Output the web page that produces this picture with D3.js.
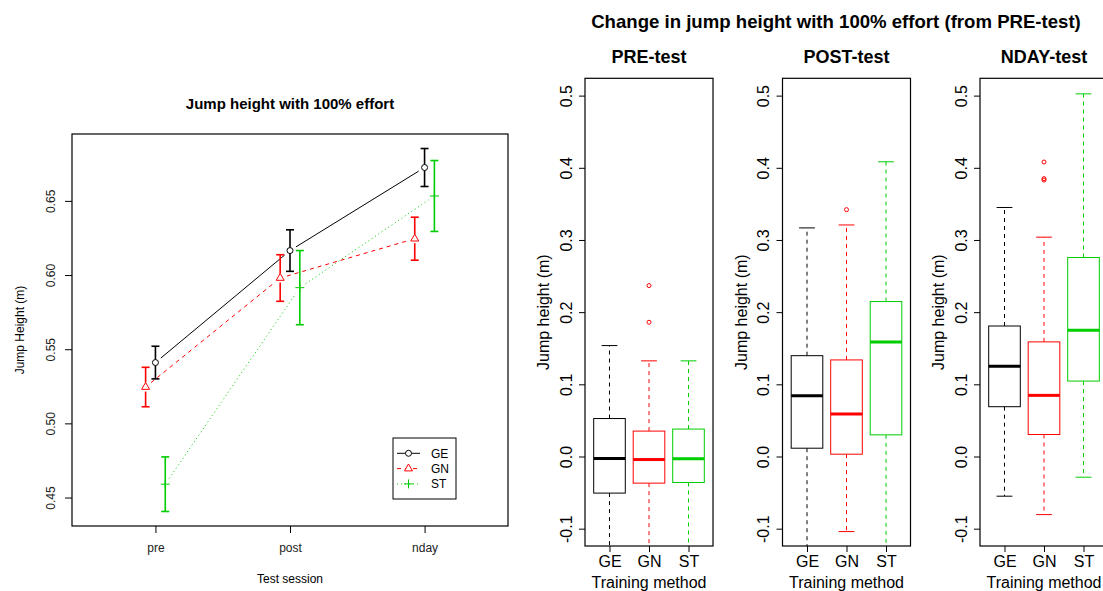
<!DOCTYPE html>
<html>
<head>
<meta charset="utf-8">
<script src="https://cdn.jsdelivr.net/npm/d3@7/dist/d3.min.js"></script>
<style>
body { margin: 0; background: #fff; }
svg { display: block; font-family: "Liberation Sans", Arial, sans-serif; }
</style>
</head>
<body>
<script>
/*global d3*/

// ---------------------------------------------------------------------------
// Data
// ---------------------------------------------------------------------------

// Test sessions (x axis of left chart) and training groups
var sessions = ["pre", "post", "nday"];
var groups = ["GE", "GN", "ST"];

// Mean jump height (m) and error bar half-width, one value per session
var meanGE = [0.541, 0.6165, 0.6725];
var errGE = [0.011, 0.014, 0.0128];
var meanGN = [0.5245, 0.598, 0.6245];
var errGN = [0.0133, 0.0157, 0.0145];
var meanST = [0.459, 0.5915, 0.6533];
var errST = [0.0184, 0.025, 0.0239];

var leftTicks = [0.45, 0.50, 0.55, 0.60, 0.65];

// Box plot panels: [lower whisker, Q1, median, Q3, upper whisker] per group
// (lower whiskers that run out of the panel are estimated below -0.124)
var panels = ["PRE-test", "POST-test", "NDAY-test"];
var preStats = [
    [-0.16, -0.0507, -0.0028, 0.0526, 0.1537],
    [-0.16, -0.0369, -0.0042, 0.0352, 0.1325],
    [-0.16, -0.036, -0.0032, 0.038, 0.1325]
];
var preOut = [[], [0.186, 0.2368], []];
var postStats = [
    [-0.16, 0.0115, 0.0842, 0.1397, 0.3167],
    [-0.104, 0.0032, 0.0588, 0.1338, 0.3208],
    [-0.16, 0.030, 0.1588, 0.2147, 0.4083]
];
var postOut = [[], [0.342], []];
var ndayStats = [
    [-0.055, 0.069, 0.1249, 0.1808, 0.345],
    [-0.0805, 0.0305, 0.0847, 0.1588, 0.3039],
    [-0.0287, 0.1045, 0.1748, 0.2757, 0.5024]
];
var ndayOut = [[], [0.408, 0.385, 0.383], []];

var boxTicks = [-0.1, 0.0, 0.1, 0.2, 0.3, 0.4, 0.5];
var boxLimits = [-0.1, 0.5];

// ---------------------------------------------------------------------------
// Shared setup
// ---------------------------------------------------------------------------
var colors = ["#000000", "#ff0000", "#00cd00"];

var svg = d3.select("body").append("svg")
    .attr("width", 1103)
    .attr("height", 591);

// R style axis range: data range stretched by 4% on both sides
function padRange(lo, hi) {
    var e = (hi - lo) * 0.04;
    return [lo - e, hi + e];
}

// ---------------------------------------------------------------------------
// Left chart: means with error bars
// ---------------------------------------------------------------------------
var plot = {left: 72, right: 508, top: 134, bottom: 526};

var series = [
    {name: "GE", mean: meanGE, err: errGE, dx: 0, dash: null, shape: "circle"},
    {name: "GN", mean: meanGN, err: errGN, dx: -0.073, dash: "4,4",
        shape: "triangle"},
    {name: "ST", mean: meanST, err: errST, dx: 0.073, dash: "1,3",
        shape: "plus"}
];
series.forEach(function (s, i) { s.color = colors[i]; });

var allLo = [], allHi = [];
series.forEach(function (s) {
    s.mean.forEach(function (m, j) {
        allLo.push(m - s.err[j]);
        allHi.push(m + s.err[j]);
    });
});

var xLeft = d3.scaleLinear()
    .domain(padRange(0.5, 3.5))
    .range([plot.left, plot.right]);
var yLeft = d3.scaleLinear()
    .domain(padRange(d3.min(allLo), d3.max(allHi)))
    .range([plot.bottom, plot.top]);

// marker shapes, drawn as paths around (0,0)
function markerPath(shape) {
    if (shape === "circle") {
        return "M3,0A3,3 0 1,1 -3,0A3,3 0 1,1 3,0Z";
    }
    if (shape === "triangle") {
        return "M0,-4.6L4,2.3L-4,2.3Z";
    }
    return "M-4.5,0H4.5M0,-4.5V4.5";
}
var markerGap = {circle: 3, triangle: 4.5, plus: 0};

var gLeft = svg.append("g");

series.forEach(function (s) {
    var pts = s.mean.map(function (m, j) {
        return [xLeft(j + 1 + s.dx), yLeft(m)];
    });

    // connecting lines, broken around the points (type = "b")
    for (var j = 0; j < pts.length - 1; j++) {
        var a = pts[j], b = pts[j + 1];
        var dx = b[0] - a[0], dy = b[1] - a[1];
        var len = Math.sqrt(dx * dx + dy * dy), gap = 7;
        gLeft.append("line")
            .attr("x1", a[0] + dx / len * gap)
            .attr("y1", a[1] + dy / len * gap)
            .attr("x2", b[0] - dx / len * gap)
            .attr("y2", b[1] - dy / len * gap)
            .attr("stroke", s.color)
            .attr("stroke-width", 1)
            .attr("stroke-dasharray", s.dash);
    }

    // error bars with caps
    s.mean.forEach(function (m, j) {
        var x = xLeft(j + 1 + s.dx), g = markerGap[s.shape];
        var yTop = yLeft(m + s.err[j]), yBot = yLeft(m - s.err[j]);
        var yMid = yLeft(m);
        var bar = gLeft.append("g")
            .attr("stroke", s.color)
            .attr("stroke-width", 1.6);
        bar.append("line").attr("x1", x).attr("x2", x)
            .attr("y1", yTop).attr("y2", yMid - g);
        bar.append("line").attr("x1", x).attr("x2", x)
            .attr("y1", yMid + g).attr("y2", yBot);
        bar.append("line").attr("x1", x - 4).attr("x2", x + 4)
            .attr("y1", yTop).attr("y2", yTop);
        bar.append("line").attr("x1", x - 4).attr("x2", x + 4)
            .attr("y1", yBot).attr("y2", yBot);
    });

    // markers
    gLeft.selectAll(null)
        .data(pts)
        .enter()
        .append("path")
        .attr("transform", function (d) {
            return "translate(" + d[0] + "," + d[1] + ")";
        })
        .attr("d", markerPath(s.shape))
        .attr("fill", "none")
        .attr("stroke", s.color)
        .attr("stroke-width", 1);
});

// box around plot region
svg.append("rect")
    .attr("x", plot.left)
    .attr("y", plot.top)
    .attr("width", plot.right - plot.left)
    .attr("height", plot.bottom - plot.top)
    .attr("fill", "none")
    .attr("stroke", "#000")
    .attr("stroke-width", 1.2);

// y axis, labels rotated like R's default
var gyL = svg.append("g")
    .attr("transform", "translate(" + plot.left + ",0)")
    .call(d3.axisLeft(yLeft).tickValues(leftTicks).tickSize(7)
        .tickFormat(function (d) { return d.toFixed(2); }));
gyL.select(".domain").remove();
gyL.selectAll("text")
    .attr("x", null)
    .attr("dy", null)
    .attr("text-anchor", "middle")
    .attr("transform", "translate(-17,0) rotate(-90)");

// x axis with session names
var gxL = svg.append("g")
    .attr("transform", "translate(0," + plot.bottom + ")")
    .call(d3.axisBottom(xLeft).tickValues([1, 2, 3]).tickSize(7)
        .tickFormat(function (d) { return sessions[d - 1]; }));
gxL.select(".domain").remove();
gxL.selectAll("text").attr("y", 25.5).attr("dy", null);

[gyL, gxL].forEach(function (g) {
    g.attr("font-family", null)
        .attr("font-size", "12px")
        .attr("color", "#000");
    g.selectAll("text").attr("fill", "#222");
});

svg.append("text")
    .attr("x", (plot.left + plot.right) / 2)
    .attr("y", 108.5)
    .attr("text-anchor", "middle")
    .attr("font-size", "15px")
    .attr("font-weight", "bold")
    .text("Jump height with 100% effort");

svg.append("text")
    .attr("x", (plot.left + plot.right) / 2)
    .attr("y", 583)
    .attr("text-anchor", "middle")
    .attr("font-size", "12px")
    .text("Test session");

svg.append("text")
    .attr("text-anchor", "middle")
    .attr("transform", "translate(23.5," + (plot.top + plot.bottom) / 2 +
        ") rotate(-90)")
    .attr("font-size", "12px")
    .text("Jump Height (m)");

// legend
var leg = svg.append("g").attr("transform", "translate(393,438)");
leg.append("rect")
    .attr("width", 63)
    .attr("height", 61)
    .attr("fill", "#fff")
    .attr("stroke", "#000")
    .attr("stroke-width", 1);
series.forEach(function (s, i) {
    var y = 15.3 + i * 15.3;
    leg.append("line")
        .attr("x1", 4).attr("x2", 27)
        .attr("y1", y).attr("y2", y)
        .attr("stroke", s.color)
        .attr("stroke-dasharray", s.dash);
    leg.append("path")
        .attr("transform", "translate(15.5," + y + ")")
        .attr("d", markerPath(s.shape))
        .attr("fill", s.shape === "plus" ? "none" : "#fff")
        .attr("stroke", s.color);
    leg.append("text")
        .attr("x", 38)
        .attr("y", y)
        .attr("dy", "0.36em")
        .attr("font-size", "12px")
        .text(s.name);
});

// ---------------------------------------------------------------------------
// Right side: box plots of change in jump height
// ---------------------------------------------------------------------------
var box = {top: 78.3, bottom: 546, width: 128, first: 585, step: 197.5};
var panelStats = [preStats, postStats, ndayStats];
var panelOut = [preOut, postOut, ndayOut];

var xBox = d3.scaleLinear()
    .domain(padRange(0.5, 3.5))
    .range([0, box.width]);
var yBox = d3.scaleLinear()
    .domain(padRange(boxLimits[0], boxLimits[1]))
    .range([box.bottom, box.top]);
var unit = xBox(1) - xBox(0);

svg.append("defs").append("clipPath")
    .attr("id", "panel-clip")
    .append("rect")
    .attr("x", 0)
    .attr("y", box.top)
    .attr("width", box.width)
    .attr("height", box.bottom - box.top);

svg.append("text")
    .attr("x", 836)
    .attr("y", 28)
    .attr("text-anchor", "middle")
    .attr("font-size", "18.6px")
    .attr("font-weight", "bold")
    .text("Change in jump height with 100% effort (from PRE-test)");

panels.forEach(function (title, p) {
    var g = svg.append("g")
        .attr("transform", "translate(" + (box.first + p * box.step) + ",0)");
    var marks = g.append("g").attr("clip-path", "url(#panel-clip)");

    panelStats[p].forEach(function (st, i) {
        var cx = xBox(i + 1), half = 0.4 * unit, cap = 0.2 * unit;
        var col = colors[i];

        // dashed whiskers
        marks.append("line")
            .attr("x1", cx).attr("x2", cx)
            .attr("y1", yBox(st[3])).attr("y2", yBox(st[4]))
            .attr("stroke", col).attr("stroke-dasharray", "4,4");
        marks.append("line")
            .attr("x1", cx).attr("x2", cx)
            .attr("y1", yBox(st[1])).attr("y2", yBox(st[0]))
            .attr("stroke", col).attr("stroke-dasharray", "4,4");

        // whisker caps
        [st[0], st[4]].forEach(function (v) {
            marks.append("line")
                .attr("x1", cx - cap).attr("x2", cx + cap)
                .attr("y1", yBox(v)).attr("y2", yBox(v))
                .attr("stroke", col);
        });

        // box and median
        marks.append("rect")
            .attr("x", cx - half)
            .attr("y", yBox(st[3]))
            .attr("width", 2 * half)
            .attr("height", yBox(st[1]) - yBox(st[3]))
            .attr("fill", "#fff")
            .attr("stroke", col);
        marks.append("line")
            .attr("x1", cx - half).attr("x2", cx + half)
            .attr("y1", yBox(st[2])).attr("y2", yBox(st[2]))
            .attr("stroke", col).attr("stroke-width", 3);

        // outliers
        marks.selectAll(null)
            .data(panelOut[p][i])
            .enter()
            .append("circle")
            .attr("cx", cx)
            .attr("cy", function (d) { return yBox(d); })
            .attr("r", 2)
            .attr("fill", "none")
            .attr("stroke", col);
    });

    g.append("rect")
        .attr("x", 0)
        .attr("y", box.top)
        .attr("width", box.width)
        .attr("height", box.bottom - box.top)
        .attr("fill", "none")
        .attr("stroke", "#000")
        .attr("stroke-width", 1.2);

    // tick labels use a plain hyphen for negatives, like R
    var gy = g.append("g")
        .call(d3.axisLeft(yBox).tickValues(boxTicks).tickSize(6)
            .tickFormat(function (d) { return d.toFixed(1); }));
    gy.select(".domain").remove();
    gy.selectAll("text")
        .attr("x", null)
        .attr("dy", null)
        .attr("text-anchor", "middle")
        .attr("transform", "translate(-13.5,0) rotate(-90)");

    var gx = g.append("g")
        .attr("transform", "translate(0," + box.bottom + ")")
        .call(d3.axisBottom(xBox).tickValues([1, 2, 3]).tickSize(6)
            .tickFormat(function (d) { return groups[d - 1]; }));
    gx.select(".domain").remove();
    gx.selectAll("text").attr("y", 20.7).attr("dy", null);

    [gy, gx].forEach(function (a) {
        a.attr("font-family", null)
            .attr("font-size", "16px")
            .attr("color", "#000");
    });

    g.append("text")
        .attr("x", box.width / 2)
        .attr("y", 62.5)
        .attr("text-anchor", "middle")
        .attr("font-size", "18px")
        .attr("font-weight", "bold")
        .text(title);

    g.append("text")
        .attr("x", box.width / 2)
        .attr("y", 588)
        .attr("text-anchor", "middle")
        .attr("font-size", "16px")
        .text("Training method");

    g.append("text")
        .attr("text-anchor", "middle")
        .attr("transform", "translate(-36," + (box.top + box.bottom) / 2 +
            ") rotate(-90)")
        .attr("font-size", "16px")
        .text("Jump height (m)");
});
</script>
</body>
</html>
